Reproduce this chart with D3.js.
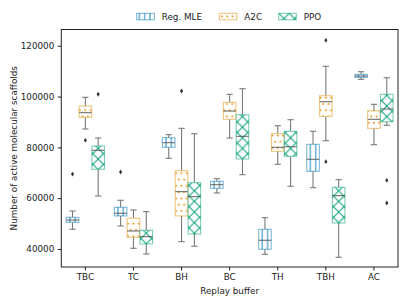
<!DOCTYPE html>
<html>
<head>
<meta charset="utf-8">
<script src="https://cdn.jsdelivr.net/npm/d3@7"></script>
<style>
  body { margin: 0; background: #fff; }
  svg text { font-family: "DejaVu Sans", sans-serif; }
</style>
</head>
<body>
<div id="chart"></div>
<script>
// categories and series
const buffers = ["TBC", "TC", "BH", "BC", "TH", "TBH", "AC"];
const methods = ["Reg. MLE", "A2C", "PPO"];

// [whisker low, q1, median, q3, whisker high] per buffer
const regMLE = [
    [47750, 50500, 51400, 52470, 54950],
    [49050, 53000, 54050, 56410, 59160],
    [75700, 80020, 81840, 83800, 84990],
    [62040, 63890, 65310, 66640, 67670],
    [37910, 39880, 43420, 47750, 52320],
    [64130, 70580, 75300, 81200, 86320],
    [106780, 107570, 108080, 108750, 109780],
];
const a2c = [
    [87230, 91830, 93650, 96280, 99700],
    [40270, 44600, 47080, 52080, 55350],
    [42880, 53000, 62570, 70830, 87490],
    [83680, 91040, 94310, 97730, 100880],
    [73330, 78450, 80020, 85380, 88530],
    [82620, 92220, 97970, 100330, 111900],
    [81050, 87490, 91040, 94430, 96950],
];
const ppo = [
    [60860, 71370, 78840, 80540, 83680],
    [38030, 41970, 44850, 47360, 54700],
    [41060, 45900, 60600, 66100, 85380],
    [69240, 75420, 84350, 92850, 103090],
    [64680, 76480, 80260, 86320, 90890],
    [36730, 50230, 61000, 64280, 67270],
    [88680, 90100, 95100, 100880, 107410],
];
// outliers: [buffer, value]
const regMLEOut = [["TBC", 69500], ["TC", 70300]];
const a2cOut = [["TBC", 82780], ["BH", 102180], ["TBH", 122130], ["TBH", 74360]];
const ppoOut = [["TBC", 100900], ["AC", 67040], ["AC", 58100]];

const yTicks = [40000, 60000, 80000, 100000, 120000];

const colors = ["#0173b2", "#de8f05", "#029e73"];
const hatchIds = ["hatchV", "hatchDot", "hatchX"];

const width = 407;
const height = 305;
const marginTop = 29.5;
const marginRight = 9;
const marginBottom = 38;
const marginLeft = 61.3;

const svg = d3.select("#chart")
    .append("svg")
    .attr("width", width)
    .attr("height", height);

// hatch patterns
const defs = svg.append("defs");
const pV = defs.append("pattern").attr("id", "hatchV")
    .attr("patternUnits", "userSpaceOnUse").attr("width", 5.3).attr("height", 5.3);
pV.append("line").attr("x1", 2.65).attr("x2", 2.65).attr("y1", 0).attr("y2", 5.3)
    .attr("stroke", colors[0]).attr("stroke-width", 0.9);

const pD = defs.append("pattern").attr("id", "hatchDot")
    .attr("patternUnits", "userSpaceOnUse").attr("width", 10.6).attr("height", 12.6);
[[2.6, 3.1], [7.9, 3.1], [5.25, 9.4], [0, 9.4], [10.6, 9.4]].forEach(([cx, cy]) => {
    pD.append("circle").attr("cx", cx).attr("cy", cy).attr("r", 0.95).attr("fill", colors[1]);
});

const pX = defs.append("pattern").attr("id", "hatchX")
    .attr("patternUnits", "userSpaceOnUse").attr("width", 10.6).attr("height", 10.6);
pX.append("path").attr("d", "M0,0L10.6,10.6M10.6,0L0,10.6")
    .attr("stroke", colors[2]).attr("stroke-width", 1).attr("fill", "none");

const x = d3.scaleBand()
    .domain(buffers)
    .range([marginLeft, width - marginRight])
    .padding(0);

const y = d3.scaleLinear()
    .domain([32900, 126400])
    .range([height - marginBottom, marginTop]);

const hueStep = x.bandwidth() * 0.8 / 3;
const boxW = hueStep * 0.98;
const hueOffset = (j) => x.bandwidth() / 2 + (j - 1) * hueStep;

// boxes
const series = [regMLE, a2c, ppo];
const outliers = [regMLEOut, a2cOut, ppoOut];
const whiskerColor = "#7a7a7a";

series.forEach((s, j) => {
    const g = svg.append("g");
    const grp = g.selectAll("g")
        .data(s.map((d, i) => ({ cat: buffers[i], stats: d })))
        .enter()
        .append("g")
        .attr("transform", (d) => `translate(${x(d.cat) + hueOffset(j)},0)`);

    // whiskers
    grp.append("line")
        .attr("x1", 0).attr("x2", 0)
        .attr("y1", (d) => y(d.stats[0])).attr("y2", (d) => y(d.stats[1]))
        .attr("stroke", whiskerColor).attr("stroke-width", 1.1);
    grp.append("line")
        .attr("x1", 0).attr("x2", 0)
        .attr("y1", (d) => y(d.stats[3])).attr("y2", (d) => y(d.stats[4]))
        .attr("stroke", whiskerColor).attr("stroke-width", 1.1);
    // caps
    [0, 4].forEach((k) => {
        grp.append("line")
            .attr("x1", -boxW / 4).attr("x2", boxW / 4)
            .attr("y1", (d) => y(d.stats[k])).attr("y2", (d) => y(d.stats[k]))
            .attr("stroke", whiskerColor).attr("stroke-width", 1.1);
    });

    // box
    grp.append("rect")
        .attr("x", -boxW / 2)
        .attr("width", boxW)
        .attr("y", (d) => y(d.stats[3]))
        .attr("height", (d) => y(d.stats[1]) - y(d.stats[3]))
        .attr("fill", "#fff");
    grp.append("rect")
        .attr("x", -boxW / 2)
        .attr("width", boxW)
        .attr("y", (d) => y(d.stats[3]))
        .attr("height", (d) => y(d.stats[1]) - y(d.stats[3]))
        .attr("fill", `url(#${hatchIds[j]})`)
        .attr("stroke", colors[j])
        .attr("stroke-opacity", 0.5)
        .attr("stroke-width", 1.1);

    // median
    grp.append("line")
        .attr("x1", -boxW / 2).attr("x2", boxW / 2)
        .attr("y1", (d) => y(d.stats[2])).attr("y2", (d) => y(d.stats[2]))
        .attr("stroke", "#555").attr("stroke-opacity", 0.85).attr("stroke-width", 1.1);

    // outliers
    g.append("g")
        .selectAll("path")
        .data(outliers[j])
        .enter()
        .append("path")
        .attr("transform", (d) => `translate(${x(d[0]) + hueOffset(j)},${y(d[1])})`)
        .attr("d", "M0,-2.4L1.6,0L0,2.4L-1.6,0Z")
        .attr("fill", "#3a3a3a");
});

// frame
svg.append("rect")
    .attr("x", marginLeft)
    .attr("y", marginTop)
    .attr("width", width - marginRight - marginLeft)
    .attr("height", height - marginBottom - marginTop)
    .attr("fill", "none")
    .attr("stroke", "#222")
    .attr("stroke-width", 1);

// axes
const xAxis = svg.append("g")
    .attr("transform", `translate(0,${height - marginBottom})`)
    .call(d3.axisBottom(x).tickSize(3.5).tickPadding(3.5))
    .call((g) => g.select(".domain").remove());
xAxis.selectAll("line").attr("stroke", "#222");
xAxis.selectAll("text").attr("font-size", 8.8).attr("fill", "#222")
    .attr("font-family", "DejaVu Sans");

const yAxis = svg.append("g")
    .attr("transform", `translate(${marginLeft},0)`)
    .call(d3.axisLeft(y).tickValues(yTicks).tickFormat(d3.format("d")).tickSize(3.5).tickPadding(3.5))
    .call((g) => g.select(".domain").remove());
yAxis.selectAll("line").attr("stroke", "#222");
yAxis.selectAll("text").attr("font-size", 8.8).attr("fill", "#222")
    .attr("font-family", "DejaVu Sans");

// axis labels
svg.append("text")
    .attr("x", (marginLeft + width - marginRight) / 2)
    .attr("y", 293.5)
    .attr("text-anchor", "middle")
    .attr("font-size", 8.8)
    .attr("fill", "#222")
    .text("Replay buffer");

svg.append("text")
    .attr("transform", `translate(16.5,${(marginTop + height - marginBottom) / 2}) rotate(-90)`)
    .attr("text-anchor", "middle")
    .attr("font-size", 8.8)
    .attr("fill", "#222")
    .text("Number of active molecular scaffolds");

// legend
const legendX = [136.7, 219.3, 278.7];
const legend = svg.append("g")
    .selectAll("g")
    .data(methods)
    .enter()
    .append("g")
    .attr("transform", (d, i) => `translate(${legendX[i]},13.3)`);
legend.append("rect")
    .attr("width", 17.6).attr("height", 6.5)
    .attr("fill", (d, i) => `url(#${hatchIds[i]})`)
    .attr("stroke", (d, i) => colors[i])
    .attr("stroke-opacity", 0.5)
    .attr("stroke-width", 1.1);
legend.append("text")
    .attr("x", 25)
    .attr("y", 6.6)
    .attr("font-size", 8.8)
    .attr("fill", "#222")
    .text((d) => d);
</script>
</body>
</html>
